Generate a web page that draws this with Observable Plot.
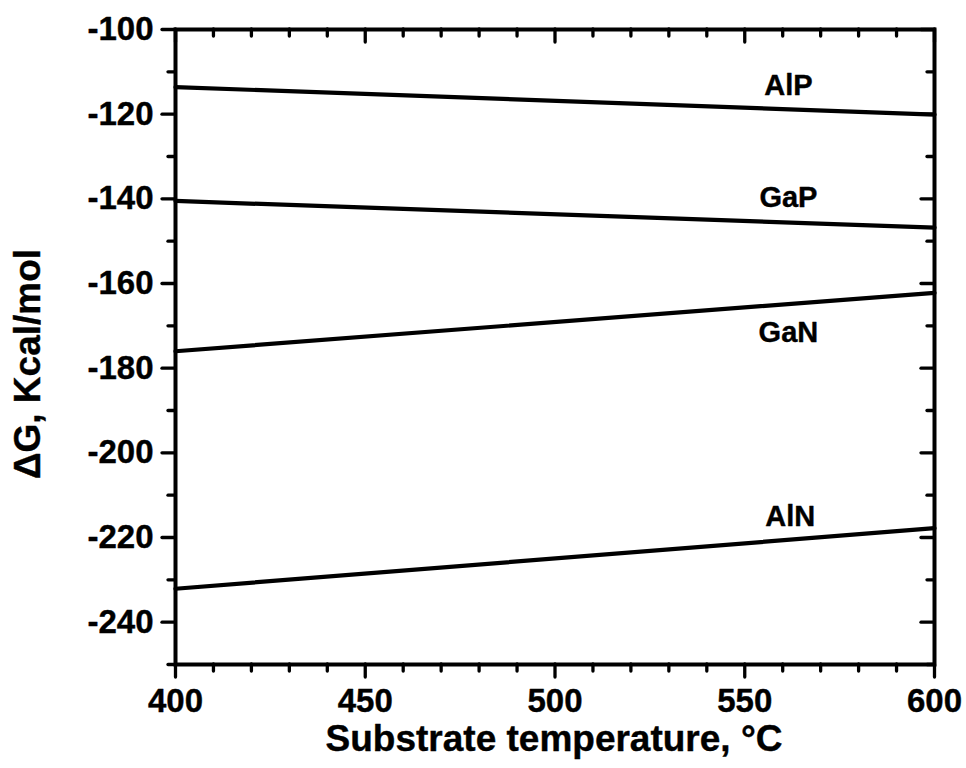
<!DOCTYPE html>
<html><head><meta charset="utf-8">
<script src="https://cdn.jsdelivr.net/npm/d3@7"></script>
<script src="https://cdn.jsdelivr.net/npm/@observablehq/plot@0.6"></script>
<style>body{margin:0;background:#fff} svg{display:block}</style>
</head><body><div id="chart"></div>
<script>
const temperatures = [400, 600];
const seriesNames = ["AlP", "GaP", "GaN", "AlN"];
const alpValues = [-113.6, -120.1];
const gapValues = [-140.5, -146.8];
const ganValues = [-176.0, -162.2];
const alnValues = [-232.1, -217.8];
const labelX = [561.5, 561.5, 561.5, 562];
const labelY = [-113.2, -139.8, -171.6, -215.0];
const xMajorTicks = [400, 450, 500, 550, 600];
const xMinorTicks = [410, 420, 430, 440, 460, 470, 480, 490, 510, 520, 530, 540, 560, 570, 580, 590];
const yMajorTicks = [-100, -120, -140, -160, -180, -200, -220, -240];
const yMinorTicks = [-110, -130, -150, -170, -190, -210, -230, -250];
const xTitle = "Substrate temperature, °C";
const yTitle = "ΔG, Kcal/mol";

const allValues = [alpValues, gapValues, ganValues, alnValues];
const rows = [];
seriesNames.forEach((name, i) => temperatures.forEach((t, j) => rows.push({name, t, g: allValues[i][j]})));
const labels = seriesNames.map((name, i) => ({name, x: labelX[i], y: labelY[i]}));

const W = 966, H = 768, mL = 175, mR = 32, mT = 29, mB = 104;
const iW = W - mL - mR, iH = H - mT - mB;
const font = "'Liberation Sans', Arial, Helvetica, sans-serif";
const tickStyle = {stroke: "black", strokeWidth: 3.3, strokeLinecap: "round"};
const MAJ = 13, MIN = 7;
const boldText = {fontWeight: "bold", fill: "black", stroke: "black", strokeWidth: 0.4};

const chart = Plot.plot({
  width: W, height: H,
  marginLeft: mL, marginRight: mR, marginTop: mT, marginBottom: mB,
  style: {fontFamily: font, background: "white"},
  x: {domain: [400, 600], axis: null},
  y: {domain: [-250, -100], axis: null},
  marks: [
    // bottom ticks (outward)
    Plot.tickX(xMajorTicks, {x: d => d, insetTop: iH, insetBottom: -MAJ, ...tickStyle}),
    Plot.tickX(xMinorTicks, {x: d => d, insetTop: iH, insetBottom: -MIN, ...tickStyle}),
    // top ticks (inward)
    Plot.tickX(xMajorTicks, {x: d => d, insetTop: 0, insetBottom: iH - MAJ, ...tickStyle}),
    Plot.tickX(xMinorTicks, {x: d => d, insetTop: 0, insetBottom: iH - MIN, ...tickStyle}),
    // left ticks (outward)
    Plot.tickY(yMajorTicks, {y: d => d, insetLeft: -MAJ, insetRight: iW, ...tickStyle}),
    Plot.tickY(yMinorTicks, {y: d => d, insetLeft: -MIN, insetRight: iW, ...tickStyle}),
    // right ticks (inward)
    Plot.tickY(yMajorTicks, {y: d => d, insetLeft: iW - MAJ, insetRight: 0, ...tickStyle}),
    Plot.tickY(yMinorTicks, {y: d => d, insetLeft: iW - MIN, insetRight: 0, ...tickStyle}),
    Plot.frame({stroke: "black", strokeWidth: 4}),
    Plot.line(rows, {x: "t", y: "g", z: "name", stroke: "black", strokeWidth: 4.2}),
    Plot.text(labels, {x: "x", y: "y", text: "name", fontSize: 29, ...boldText}),
    // tick labels
    Plot.text(xMajorTicks, {x: d => d, text: d => String(d), frameAnchor: "bottom", lineAnchor: "top", dy: 24, fontSize: 33, ...boldText}),
    Plot.text(yMajorTicks, {y: d => d, text: d => String(d), frameAnchor: "left", textAnchor: "end", dx: -22, fontSize: 33, ...boldText}),
    // axis titles
    Plot.text([xTitle], {text: d => d, frameAnchor: "bottom", textAnchor: "middle", dy: 86, dx: -1, fontSize: 37, ...boldText}),
    Plot.text([yTitle], {text: d => d, frameAnchor: "left", textAnchor: "middle", rotate: -90, dx: -147, dy: 17, fontSize: 37, ...boldText})
  ]
});
document.getElementById("chart").append(chart);
</script>
</body></html>
